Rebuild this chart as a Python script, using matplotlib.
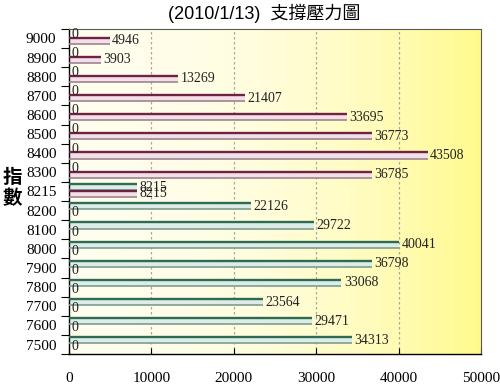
#1. Import the relevant libraries
import numpy as np
import matplotlib
matplotlib.use('Agg')
import matplotlib.pyplot as plt

#2. Data (top to bottom)
levels = ['9000', '8900', '8800', '8700', '8600', '8500', '8400', '8300', '8215',
          '8200', '8100', '8000', '7900', '7800', '7700', '7600', '7500']
pressure = [4946, 3903, 13269, 21407, 33695, 36773, 43508, 36785, 8215,
            0, 0, 0, 0, 0, 0, 0, 0]
support = [0, 0, 0, 0, 0, 0, 0, 0, 8215,
           22126, 29722, 40041, 36798, 33068, 23564, 29471, 34313]

serif = 'Liberation Serif'
cjk = ['Liberation Sans', 'Noto Sans CJK TC']

#3. Figure and axes
fig = plt.figure(figsize=(5, 3.9), dpi=100)
ax = fig.add_axes([0.138, 0.092, 0.824, 0.834])

n = len(levels)
y = np.arange(n)[::-1]
h = 0.32

# yellow gradient background
grad = np.linspace(0, 1, 256) ** 2.2
left = np.array([1.0, 0.995, 0.93])
right = np.array([1.0, 0.98, 0.55])
img = left[None, :] + (right - left)[None, :] * grad[:, None]
ax.imshow(img[None, :, :], extent=[0, 1, 0, 1], transform=ax.transAxes,
          aspect='auto', zorder=0)

# gridlines
for gx in [10000, 20000, 30000, 40000]:
    ax.axvline(gx, color='#a8a8a0', lw=0.9, ls=(0, (2, 2)), zorder=1)

#4. Bars: green (support) on top slot, pink (pressure) below
def draw(vals, off, fill, top, bot):
    yy = y + off
    ax.barh(yy, vals, height=h, color=fill, lw=0, zorder=2)
    ax.hlines(yy + h / 2, 0, vals, color=top, lw=1.7, zorder=3)
    ax.hlines(yy - h / 2, 0, vals, color=bot, lw=1.2, zorder=3)
    for yi, v in zip(yy, vals):
        ax.text(v + 300, yi, str(v), va='center', ha='left',
                fontsize=10, family=serif, color='#222222', zorder=4)

draw(support, 0.22, '#dcece6', '#2f6a52', '#7f9c92')
draw(pressure, -0.12, '#f2dfe7', '#6e2344', '#9c8690')

#5. Axes formatting
ax.set_xlim(0, 50000)
ax.set_ylim(-0.5, n - 0.5)
ax.set_xticks([0, 10000, 20000, 30000, 40000, 50000])
ax.set_xticklabels(['0', '10000', '20000', '30000', '40000', '50000'],
                   family=serif, fontsize=11)
ax.tick_params(axis='x', direction='in', length=4, pad=13)

ax.set_yticks(np.arange(n + 1) - 0.5)
ax.set_yticklabels([])
ax.set_yticks(y, minor=True)
ax.set_yticklabels(levels, minor=True, family=serif, fontsize=11)
ax.tick_params(axis='y', which='major', direction='out', length=6)
ax.tick_params(axis='y', which='minor', length=0, pad=9)

for s in ['top', 'right']:
    ax.spines[s].set_color('#5a5a50')
    ax.spines[s].set_linewidth(0.8)
for s in ['left', 'bottom']:
    ax.spines[s].set_color('black')
    ax.spines[s].set_linewidth(1.0)

#6. Titles
fig.text(0.528, 0.965, '(2010/1/13)  支撐壓力圖', ha='center', va='center',
         fontsize=13, family=cjk)
fig.text(0.025, 0.518, '指\n數', ha='center', va='center', fontsize=14,
         fontweight='bold', family=['Noto Sans CJK TC'], linespacing=1.15)

plt.savefig('out.png', dpi=100)
